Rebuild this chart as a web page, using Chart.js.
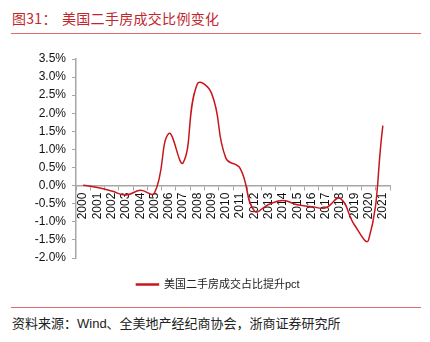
<!DOCTYPE html>
<html>
<head>
<meta charset="utf-8">
<script src="https://cdn.jsdelivr.net/npm/chart.js@4.4.1/dist/chart.umd.min.js"></script>
<style>
  body { margin: 0; width: 430px; height: 342px; background: #fff; position: relative; overflow: hidden; }
  .title { position: absolute; top: 8px; font: 14px "Noto Sans CJK SC", sans-serif; color: #c0262d; letter-spacing: 0.3px; white-space: nowrap; }
  .rule { position: absolute; left: 11px; width: 410px; height: 0; border-top: 1.5px solid #dd6b6b; }
  #source { position: absolute; left: 12px; top: 313px; font: 13px "Liberation Sans", "Noto Sans CJK SC", sans-serif; color: #222; white-space: nowrap; }
  #wrap { position: absolute; left: 0; top: 29px; width: 430px; height: 271px; }
</style>
</head>
<body>
<div class="title" style="left:12px">图31：</div>
<div class="title" style="left:62px">美国二手房成交比例变化</div>
<div class="rule" style="top:33px"></div>
<div id="wrap"><canvas id="chart"></canvas></div>
<div class="rule" style="top:307px"></div>
<div id="source">资料来源：Wind、全美地产经纪商协会，浙商证券研究所</div>
<script>
// years on the category axis
const years = ["2000", "2001", "2002", "2003", "2004", "2005", "2006", "2007", "2008", "2009", "2010",
  "2011", "2012", "2013", "2014", "2015", "2016", "2017", "2018", "2019", "2020", "2021"];
// change in share of existing-home sales, percentage points
const shareChange = [0.01, -0.05, -0.15, -0.26, -0.13, -0.2, 1.44, 0.63, 2.81, 2.55, 0.76,
  0.48, -0.7, -0.52, -0.41, -0.53, -0.58, -0.61, -0.35, -1.08, -1.5, 1.66];
const seriesName = "美国二手房成交占比提升pct";
const yMin = -2, yMax = 3.5, yStep = 0.5;

const axisGray = "#a6a6a6";
const red = "#c8161d";

new Chart(document.getElementById("chart"), {
  type: "line",
  data: {
    labels: years,
    datasets: [{
      label: seriesName,
      data: shareChange,
      borderColor: red,
      backgroundColor: red,
      borderWidth: 1.5,
      pointRadius: 0,
      tension: 0.45,
      fill: false
    }]
  },
  options: {
    responsive: true,
    maintainAspectRatio: false,
    animation: false,
    layout: { padding: { left: 6, right: 0, top: 30, bottom: 0 } },
    plugins: {
      legend: {
        position: "bottom",
        labels: {
          boxWidth: 22,
          boxHeight: 1,
          padding: 21,
          color: "#222",
          font: { size: 11, family: "'Liberation Sans', 'Noto Sans CJK SC', sans-serif" }
        }
      },
      tooltip: { enabled: false }
    },
    scales: {
      x: {
        position: { y: 0 },
        offset: true,
        grid: { offset: true, drawOnChartArea: false, tickLength: 4, color: axisGray },
        border: { color: axisGray, width: 1.5 },
        ticks: {
          autoSkip: false,
          minRotation: 90,
          maxRotation: 90,
          padding: 3,
          color: "#111",
          font: { size: 12, family: "'Liberation Sans', sans-serif" }
        }
      },
      y: {
        min: yMin,
        max: yMax,
        afterFit: (scale) => { scale.width = 70; },
        grid: { drawOnChartArea: false, tickLength: 4, color: axisGray },
        border: { color: axisGray, width: 1.5 },
        ticks: {
          stepSize: yStep,
          padding: 6,
          color: "#111",
          font: { size: 12, family: "'Liberation Sans', sans-serif" },
          callback: (v) => v.toFixed(1) + "%"
        }
      },
      // empty right-hand scale, only keeps the plot clear of the right edge
      yRight: {
        position: "right",
        grid: { display: false },
        border: { display: false },
        ticks: { display: false },
        afterFit: (scale) => { scale.width = 40; }
      }
    }
  }
});
</script>
</body>
</html>
